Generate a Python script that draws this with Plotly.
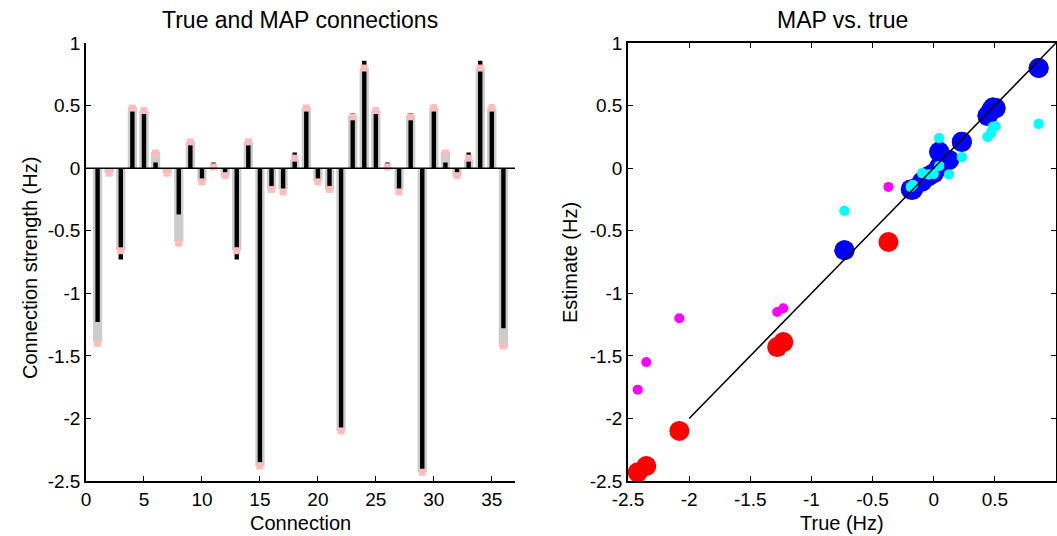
import plotly.graph_objects as go

# ---------------- data ----------------
connections = list(range(1, 37))
true_vals = [-1.23, 0.0, -0.73, 0.485, 0.47, 0.045, 0.0, -0.37, 0.23, -0.094, 0.045, -0.043,
             -0.73, 0.23, -2.35, -0.17, -0.187, 0.125, 0.485, -0.094, -0.17, -2.08, 0.44, 0.858,
             0.47, 0.045, -0.187, 0.44, -2.42, 0.506, 0.045, -0.043, 0.125, 0.858, 0.506, -1.28]
map_vals = [-1.39, -0.04, -0.656, 0.485, 0.46, 0.13, -0.04, -0.59, 0.21, -0.107, 0.01, -0.064,
            -0.656, 0.21, -2.38, -0.17, -0.17, 0.066, 0.485, -0.107, -0.17, -2.10, 0.418, 0.80,
            0.46, 0.01, -0.17, 0.418, -2.43, 0.48, 0.13, -0.064, 0.066, 0.80, 0.48, -1.43]
pink_vals = [-1.40, -0.04, -0.66, 0.48, 0.46, 0.12, -0.04, -0.60, 0.21, -0.11, 0.01, -0.06,
             -0.66, 0.21, -2.38, -0.17, -0.19, 0.08, 0.48, -0.11, -0.17, -2.10, 0.41, 0.80,
             0.46, 0.01, -0.19, 0.41, -2.43, 0.48, 0.12, -0.06, 0.08, 0.80, 0.48, -1.42]
alt_vals = [-1.12, -0.046, -0.34, 0.33, 0.28, 0.24, -0.046, -0.15, 0.088, -0.04, 0.018, -0.05,
            -0.34, 0.088, -1.55, -0.134, -0.15, -0.05, 0.33, -0.04, -0.134, -1.20, 0.25, 0.354,
            0.29, 0.018, -0.15, 0.25, -1.77, 0.335, 0.24, -0.05, -0.05, 0.354, 0.335, -1.15]
self_connections = [1, 8, 15, 22, 29, 36]
identity_range = [-2, 1]

y_ticks = [-2.5, -2, -1.5, -1, -0.5, 0, 0.5, 1]
y_ticklabels = ["-2.5", "-2", "-1.5", "-1", "-0.5", "0", "0.5", "1"]
x1_ticks = [0, 5, 10, 15, 20, 25, 30, 35]
x2_ticks = [-2.5, -2, -1.5, -1, -0.5, 0, 0.5]
x2_ticklabels = ["-2.5", "-2", "-1.5", "-1", "-0.5", "0", "0.5"]

# ---------------- split scatter groups ----------------
is_self = [c in self_connections for c in connections]
tx_self = [t for t, s in zip(true_vals, is_self) if s]
tx_oth = [t for t, s in zip(true_vals, is_self) if not s]
my_self = [m for m, s in zip(map_vals, is_self) if s]
my_oth = [m for m, s in zip(map_vals, is_self) if not s]
ay_self = [a for a, s in zip(alt_vals, is_self) if s]
ay_oth = [a for a, s in zip(alt_vals, is_self) if not s]

W, H = 1057, 536
FONT = "Liberation Sans, Arial, Helvetica, sans-serif"

fig = go.Figure()

# left: bars
fig.add_trace(go.Bar(x=connections, y=map_vals, width=0.8, marker=dict(color="#cccccc", line=dict(width=0)),
                     xaxis="x", yaxis="y", showlegend=False))
fig.add_trace(go.Scatter(x=connections, y=pink_vals, mode="markers",
                         marker=dict(symbol="square", size=7, color="#ffbcbc", line=dict(width=0)),
                         xaxis="x", yaxis="y", showlegend=False))
fig.add_trace(go.Bar(x=connections, y=true_vals, width=0.38, marker=dict(color="#000000", line=dict(width=0)),
                     xaxis="x", yaxis="y", showlegend=False))

# right: scatter
fig.add_trace(go.Scatter(x=tx_oth, y=my_oth, mode="markers",
                         marker=dict(size=20, color="#0000ff", line=dict(width=0)),
                         xaxis="x2", yaxis="y2", showlegend=False))
fig.add_trace(go.Scatter(x=tx_self, y=my_self, mode="markers",
                         marker=dict(size=20, color="#ff0000", line=dict(width=0)),
                         xaxis="x2", yaxis="y2", showlegend=False))
fig.add_trace(go.Scatter(x=tx_oth, y=ay_oth, mode="markers",
                         marker=dict(size=10, color="#00ffff", line=dict(width=0)),
                         xaxis="x2", yaxis="y2", showlegend=False))
fig.add_trace(go.Scatter(x=tx_self, y=ay_self, mode="markers",
                         marker=dict(size=10, color="#ff00ff", line=dict(width=0)),
                         xaxis="x2", yaxis="y2", showlegend=False))
fig.add_trace(go.Scatter(x=identity_range, y=identity_range, mode="lines",
                         line=dict(color="black", width=1.5),
                         xaxis="x2", yaxis="y2", showlegend=False))

ydom = [1 - 481 / H, 1 - 43 / H]
axis_common = dict(showgrid=False, zeroline=False, ticks="inside", ticklen=5, tickwidth=1,
                   tickcolor="black", linecolor="black", linewidth=1.5, showline=True,
                   automargin=False,
                   tickfont=dict(family=FONT, size=19, color="black"))

fig.update_layout(
    width=W, height=H,
    margin=dict(l=0, r=0, t=0, b=0, autoexpand=False),
    paper_bgcolor="white", plot_bgcolor="white",
    barmode="overlay",
    font=dict(family=FONT, color="black"),
    xaxis=dict(domain=[86 / W, 515 / W], range=[0, 37], tickvals=x1_ticks, anchor="y",
               mirror=False, **axis_common),
    yaxis=dict(domain=ydom, range=[-2.5, 1], tickvals=y_ticks, ticktext=y_ticklabels, anchor="x",
               mirror=False, **axis_common),
    xaxis2=dict(domain=[628 / W, 1056 / W], range=[-2.5, 1], tickvals=x2_ticks, ticktext=x2_ticklabels,
                anchor="y2", mirror="ticks", **axis_common),
    yaxis2=dict(domain=ydom, range=[-2.5, 1], tickvals=y_ticks, ticktext=y_ticklabels, anchor="x2",
                mirror="ticks", **axis_common),
    shapes=[dict(type="line", xref="x domain", yref="y", x0=0, x1=1, y0=0, y1=0,
                 line=dict(color="black", width=1.5), layer="above")],
)

def ann(text, px, py, size, angle=0):
    return dict(text=text, x=px / W, y=1 - py / H, xref="paper", yref="paper",
                showarrow=False, xanchor="center", yanchor="middle", textangle=angle,
                font=dict(family=FONT, size=size, color="black"))

fig.update_layout(annotations=[
    ann("True and MAP connections", 300, 20, 23),
    ann("MAP vs. true", 842, 20, 23),
    ann("Connection", 300, 523, 20),
    ann("True (Hz)", 842, 523, 20),
    ann("Connection strength (Hz)", 30, 268, 20, -90),
    ann("Estimate (Hz)", 570, 263, 20, -90),
])

fig.write_html("out.html")
